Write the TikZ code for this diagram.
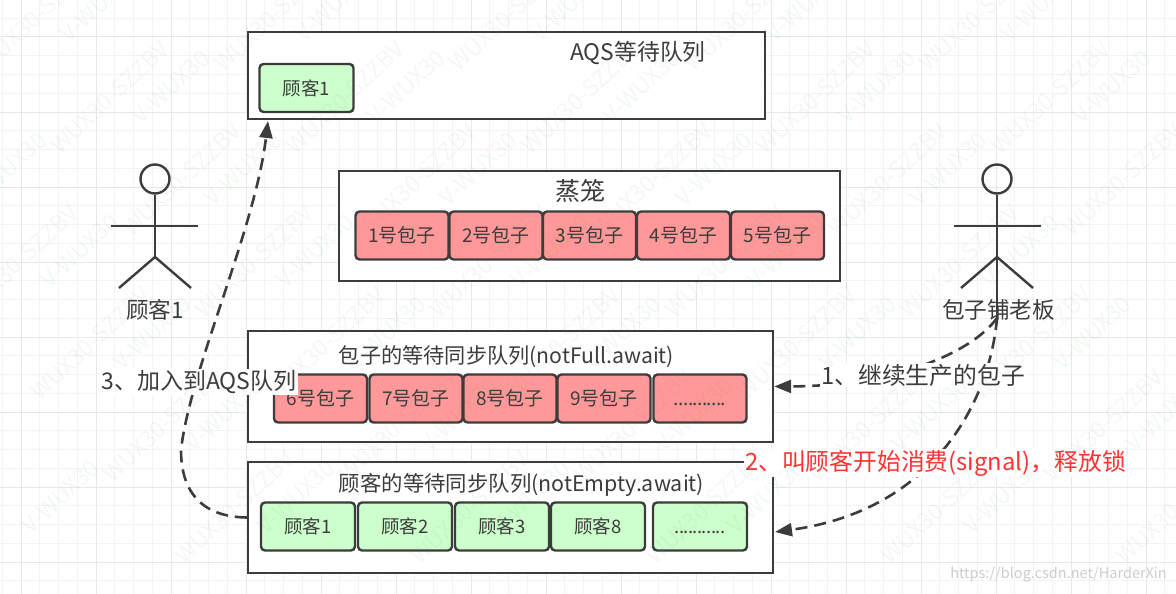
\documentclass[tikz,border=0pt]{standalone}
\usepackage{fontspec}
\setmainfont{Noto Sans CJK SC}
\usetikzlibrary{arrows.meta}
\definecolor{inkgray}{HTML}{3C3C3C}
\definecolor{bungreen}{HTML}{CCFFCC}
\definecolor{bunred}{HTML}{FF9999}
\definecolor{gridminor}{HTML}{F3F3F3}
\definecolor{gridmajor}{HTML}{E8E8E8}
\definecolor{signalred}{HTML}{FF3333}
\newcommand{\fs}[1]{\fontsize{#1}{#1}\selectfont}
\newcommand{\moredots}{\vphantom{包}\kern0pt.\kern-.6pt.\kern-.6pt.\kern-.6pt.\kern-.6pt.\kern-.6pt.\kern-.6pt.\kern-.6pt.\kern-.6pt.\kern-.6pt.\kern-.6pt.}
\tikzset{
  queuebox/.style={draw=inkgray, fill=white, line width=2.4pt, inner sep=0pt},
  item/.style={draw=inkgray, line width=2.4pt, rounded corners=4pt, inner sep=0pt, minimum height=48pt, text=inkgray, font=\fs{19}},
  redbun/.style={item, fill=bunred, minimum width=93pt},
  greenbun/.style={item, fill=bungreen, minimum width=94pt, font=\fs{18.5}},
  title/.style={text=inkgray, font=\fs{21.2}, inner sep=0pt},
  actorline/.style={draw=inkgray, line width=2.4pt},
  tagtext/.style={fill=white, inner sep=1pt, text=inkgray, font=\fs{23.8}},
  wait/.style={draw=inkgray, line width=2.6pt, dash pattern=on 12pt off 7pt, -{Triangle[length=17pt,width=13pt]}},
  stamp/.style={text=gray, opacity=.07, font=\fs{23}, rotate=43, inner sep=0pt},
  greenstamp/.style={stamp, text=green!55!black, opacity=.05}
}
\begin{document}
\begin{tikzpicture}[x=1pt, y=-1pt]
    \useasboundingbox (0,0) rectangle (1176,594);
    % Page grid
    \foreach \k in {0,...,62} {
      \draw[gridminor, line width=1pt] ({2.25+18.75*\k},0) -- ({2.25+18.75*\k},594);
    }
    \foreach \k in {0,...,31} {
      \draw[gridminor, line width=1pt] (0,{-0.5+18.75*\k}) -- (1176,{-0.5+18.75*\k});
    }
    \foreach \k in {0,...,15} {
      \draw[gridmajor, line width=1pt] ({21+75*\k},0) -- ({21+75*\k},594);
    }
    \foreach \k in {0,...,7} {
      \draw[gridmajor, line width=1pt] (0,{37+75*\k}) -- (1176,{37+75*\k});
    }
    % Queue boxes
    \node[queuebox, minimum width=517pt, minimum height=87pt] (aqsBox) at (506.5,75.5) {};
    \node[queuebox, minimum width=501pt, minimum height=110pt] (steamerBox) at (589.5,226) {};
    \node[queuebox, minimum width=525pt, minimum height=111pt] (bunQueue) at (510.5,386.5) {};
    \node[queuebox, minimum width=525pt, minimum height=111pt] (custQueue) at (510.5,517.5) {};
    % Box titles
    \node[title, font=\fs{22.8}] (aqsTitle) at (638,53) {AQS等待队列};
    \node[title, font=\fs{25}] (steamerTitle) at (580,191) {蒸笼};
    \node[title] (bunTitle) at (506.5,357) {包子的等待同步队列(notFull.await)};
    \node[title, font=\fs{21.4}] (custTitle) at (521.5,484.5) {顾客的等待同步队列(notEmpty.await)};
    % Queue items
    \node[greenbun] (aqsCust) at (306.5,88) {\raisebox{-2pt}{顾客1}};
    \foreach \x/\txt [count=\i] in {402/1号包子, 496/2号包子, 589.5/3号包子, 683.5/4号包子, 777.5/5号包子} {
      \node[redbun] (steam\i) at (\x,235.5) {\txt};
    }
    \foreach \x/\txt [count=\i] in {320.5/6号包子, 416/7号包子, 510/8号包子, 604/9号包子, 700/\moredots} {
      \node[redbun] (wait\i) at (\x,398.5) {\txt};
    }
    \foreach \x/\txt [count=\i] in {308/顾客1, 405/顾客2, 502/顾客3, 598/顾客8, 700/\moredots} {
      \node[greenbun] (cust\i) at (\x,526.5) {\txt};
    }
    % Left actor
    \node[circle, actorline, minimum size=29pt, inner sep=0pt] (custHead) at (155,179) {};
    \coordinate (custHip) at (155,257);
    \coordinate (custArmL) at (111,226);
    \coordinate (custArmR) at (198,226);
    \coordinate (custFootL) at (119,288);
    \coordinate (custFootR) at (191,288);
    \draw[actorline] (custHead) -- (custHip);
    \draw[actorline] (custArmL) -- (custArmR);
    \draw[actorline] (custFootL) -- (custHip) -- (custFootR);
    \node[title, font=\fs{22.6}] (custName) at (155,310) {顾客1};
    % Right actor
    \node[circle, actorline, minimum size=29pt, inner sep=0pt] (bossHead) at (997,179) {};
    \coordinate (bossHip) at (997,257);
    \coordinate (bossArmL) at (954,226);
    \coordinate (bossArmR) at (1041,226);
    \coordinate (bossFootL) at (961,288);
    \coordinate (bossFootR) at (1033,288);
    \coordinate (bossEnd) at (997,318);
    \draw[actorline] (bossHead) -- (bossHip);
    \draw[actorline] (bossArmL) -- (bossArmR);
    \draw[actorline] (bossFootL) -- (bossHip) -- (bossFootR);
    \draw[actorline] (bossHip) -- (bossEnd);
    \node[title, font=\fs{22.6}] (bossName) at (998.5,310) {包子铺老板};
    % Waiting arrows
    \coordinate (custTarget) at (775,532);
    \coordinate (aqsTarget) at (268,121);
    \draw[wait] (bossEnd) .. controls (970,355) and (890,386) .. (bunQueue.east);
    \draw[wait] (bossEnd) .. controls (990,400) and (935,510) .. (custTarget);
    \draw[wait] (custQueue.west) .. controls (205,517) and (181,495) .. (181,450) .. controls (190,370) and (255,230) .. (aqsTarget);
    % Labels on the arrows
    \node[tagtext] (tagGoOn) at (923,375) {1、继续生产的包子};
    \node[tagtext, text=signalred] (tagSignal) at (935.5,463) {2、叫顾客开始消费(signal)，释放锁};
    \node[tagtext, font=\fs{23}] (tagJoin) at (199,382) {3、加入到AQS队列};
    % Stamps
    \foreach \j in {0,...,6} {
      \foreach \i in {0,...,4} {
        \pgfmathsetmacro{\px}{mod(38+72*\j+235.2*\i,1176)}
        \pgfmathsetmacro{\qx}{mod(99+72*\j+235.2*\i,1176)}
        \node[stamp] at (\px,{15+82*\j}) {WUX30-SZZBV};
        \node[greenstamp] at (\qx,{5+82*\j}) {V-WUX30};
      }
    }
    \node[text=gray!40, font=\fs{14.5}, inner sep=0pt, anchor=east] (blogUrl) at (1167,575) {https://blog.csdn.net/HarderXin};
  \end{tikzpicture}
\end{document}
